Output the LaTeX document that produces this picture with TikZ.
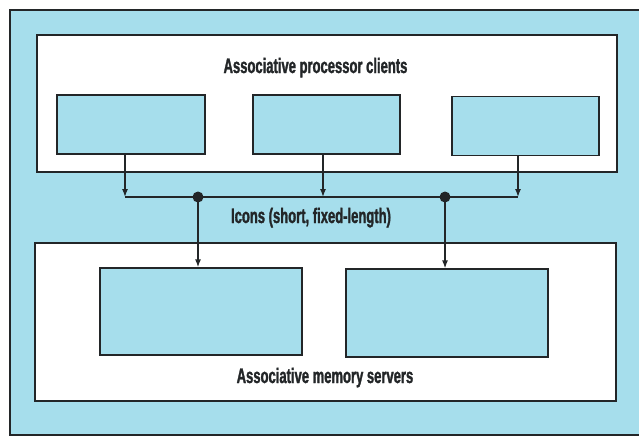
\documentclass[tikz,border=0pt]{standalone}
\usepackage{fontspec}
\newfontfamily\condfont[FakeStretch=0.62, FakeBold=1.4]{Liberation Sans}
\usetikzlibrary{calc,positioning,arrows.meta}
\definecolor{panel}{RGB}{166,222,236}
\definecolor{ink}{RGB}{35,38,40}

\begin{document}
\begin{tikzpicture}[x=1pt, y=-1pt, line width=1.3pt, draw=ink,
    group/.style={draw, fill=white, rectangle, inner sep=0pt},
    unit/.style={draw, fill=panel, rectangle, inner sep=0pt},
    caption/.style={font=\condfont\bfseries\fontsize{21}{21}\selectfont, text=ink, inner sep=0pt, anchor=base},
    flow/.style={-{Latex[length=8pt,width=6pt]}},
    junction/.style={circle, fill=ink, inner sep=0pt, minimum size=11pt}]
  \useasboundingbox (0,0) rectangle (639,437);
  % frame
  \draw [fill=panel] (10,10) rectangle (650,435);

  % clients
  \node [group, minimum width=580pt, minimum height=137pt] (top) at (327,103.5) {};
  \node [caption] (clients) at (315.5,73) {Associative processor clients};
  \node [unit, minimum width=148pt, minimum height=59pt] (c1) at (131,124.5) {};
  \node [unit, minimum width=147pt, minimum height=59pt] (c2) at (326.5,124.5) {};
  \node [unit, minimum width=147pt, minimum height=59pt] (c3) at (525.5,126) {};

  % servers
  \node [group, minimum width=581pt, minimum height=158pt] (bottom) at (325.5,322) {};
  \node [caption] (servers) at (325,383) {Associative memory servers};
  \node [unit, minimum width=202pt, minimum height=87pt] (s1) at (201,311.5) {};
  \node [unit, minimum width=202pt, minimum height=88pt] (s2) at (447,313) {};

  % icon bus
  \coordinate (b1) at (125,197);
  \coordinate (b2) at (323,197);
  \coordinate (b3) at (518,197);
  \node [junction] (d1) at (198,197) {};
  \node [junction] (d2) at (445,197) {};
  \node [caption] (icons) at (311,223) {Icons (short, fixed-length)};

  \draw (b1) -- (b3);
  \foreach \c/\b in {c1/b1, c2/b2, c3/b3}
    {
      \draw [flow] (\c.south -| \b) -- (\b);
    }
  \draw [flow] (d1.center) -- (d1 |- s1.north);
  \draw [flow] (d2.center) -- (d2 |- s2.north);
\end{tikzpicture}
\end{document}
